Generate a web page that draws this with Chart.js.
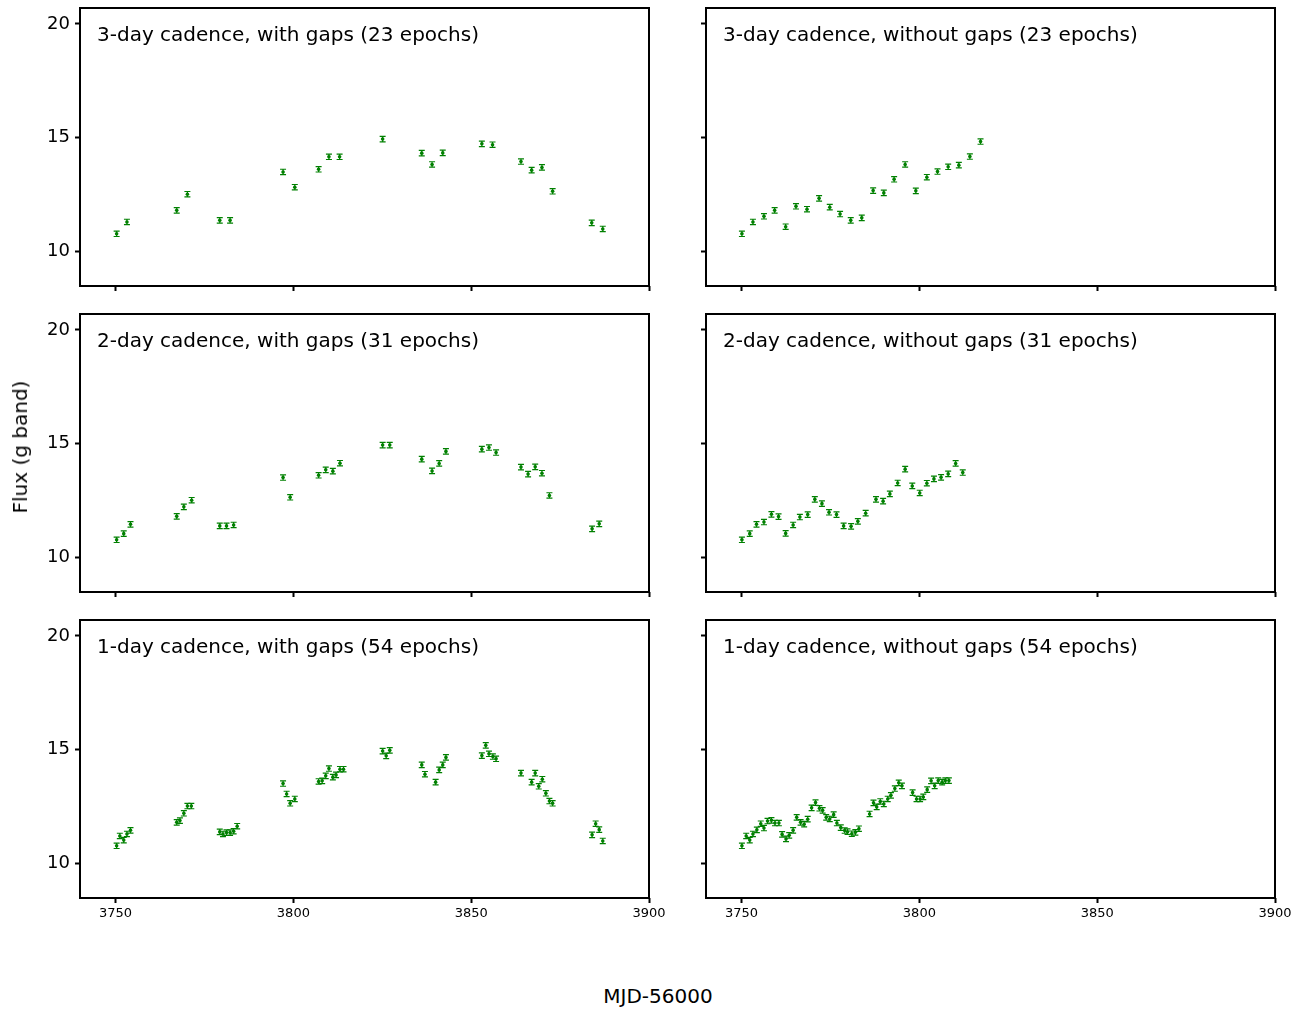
<!DOCTYPE html>
<html>
<head>
<meta charset="utf-8">
<script src="https://cdn.jsdelivr.net/npm/chart.js@4/dist/chart.umd.min.js"></script>
<style>
  html, body { margin:0; padding:0; background:#fff; overflow:hidden; width:1301px; height:1009px; }
  canvas { position:absolute; }
  .ttl { position:absolute; font-family:"DejaVu Sans", sans-serif; font-size:20px; line-height:20px; color:#000; white-space:nowrap; }
</style>
</head>
<body>
<script>
// ---------- data ----------
const X_TICKS = [3750, 3800, 3850, 3900];
const Y_TICKS = [10, 15, 20];
const FLUX_ERR = 0.12;

const gap3Days = [3750.3,3753.2,3767.2,3770.2,3779.3,3782.2,3797.1,3800.4,3807.1,3810.0,3813.0,3825.1,3836.1,3839.0,3842.0,3853.0,3856.0,3864.0,3867.0,3869.9,3872.9,3883.9,3887.0];
const gap3Flux = [10.76,11.28,11.79,12.50,11.35,11.35,13.48,12.81,13.60,14.15,14.15,14.93,14.31,13.81,14.32,14.72,14.68,13.94,13.56,13.68,12.63,11.24,10.97];

const cont3Days = [3750.1,3753.2,3756.3,3759.3,3762.4,3765.3,3768.4,3771.8,3774.8,3777.7,3780.7,3783.8,3787.0,3790.0,3792.9,3796.0,3799.0,3802.1,3805.1,3808.1,3811.1,3814.2,3817.2];
const cont3Flux = [10.76,11.28,11.53,11.79,11.07,11.97,11.84,12.32,11.93,11.63,11.35,11.46,12.66,12.56,13.16,13.81,12.65,13.25,13.50,13.71,13.78,14.16,14.82];

const gap2Days = [3750.3,3752.3,3754.2,3767.2,3769.2,3771.4,3779.3,3781.2,3783.2,3797.1,3799.1,3807.1,3809.1,3811.1,3813.1,3825.1,3827.1,3836.1,3839.0,3841.0,3842.9,3853.0,3855.0,3857.0,3864.0,3866.0,3868.0,3869.9,3872.0,3884.0,3886.0];
const gap2Flux = [10.76,11.03,11.44,11.79,12.21,12.50,11.37,11.37,11.41,13.50,12.63,13.60,13.84,13.78,14.13,14.93,14.93,14.31,13.79,14.12,14.65,14.75,14.82,14.60,13.96,13.65,13.97,13.69,12.71,11.24,11.46];

const cont2Days = [3750.1,3752.3,3754.2,3756.3,3758.4,3760.4,3762.4,3764.5,3766.4,3768.6,3770.6,3772.6,3774.6,3776.7,3778.7,3780.8,3782.7,3784.9,3787.8,3789.8,3791.7,3793.9,3796.0,3798.0,3800.1,3802.1,3804.1,3806.1,3808.1,3810.2,3812.2];
const cont2Flux = [10.76,11.03,11.44,11.54,11.88,11.78,11.04,11.41,11.76,11.87,12.54,12.35,11.97,11.87,11.37,11.35,11.57,11.93,12.54,12.46,12.78,13.26,13.87,13.13,12.82,13.25,13.44,13.51,13.66,14.12,13.72];

const gap1Days = [3750.3,3751.2,3752.3,3753.2,3754.2,3767.2,3768.1,3769.2,3770.2,3771.3,3779.3,3780.2,3781.2,3782.2,3783.2,3784.2,3797.1,3798.1,3799.1,3800.4,3807.1,3808.1,3809.1,3810.0,3811.1,3812.0,3813.1,3814.1,3825.1,3826.1,3827.1,3836.1,3837.0,3840.0,3841.0,3842.0,3842.9,3853.0,3854.1,3855.0,3856.1,3857.0,3864.0,3867.0,3868.0,3869.0,3870.0,3871.0,3872.0,3872.9,3884.0,3885.0,3886.0,3887.0];
const gap1Flux = [10.76,11.19,11.01,11.28,11.44,11.79,11.87,12.19,12.51,12.51,11.37,11.28,11.34,11.34,11.40,11.62,13.50,13.04,12.63,12.82,13.59,13.62,13.84,14.16,13.78,13.88,14.13,14.13,14.93,14.72,14.96,14.32,13.91,13.56,14.10,14.32,14.65,14.73,15.18,14.81,14.69,14.59,13.96,13.56,13.96,13.38,13.69,13.07,12.73,12.63,11.24,11.73,11.47,10.97];

const cont1Days = [3750.1,3751.3,3752.3,3753.2,3754.3,3755.4,3756.3,3757.3,3758.4,3759.4,3760.5,3761.4,3762.5,3763.4,3764.5,3765.5,3766.6,3767.6,3768.6,3769.7,3770.8,3771.9,3772.8,3773.8,3774.8,3775.9,3776.8,3777.9,3779.0,3779.8,3781.0,3782.0,3783.0,3786.0,3787.1,3788.0,3789.0,3790.0,3791.1,3792.0,3793.1,3794.2,3795.1,3798.1,3799.2,3800.2,3801.1,3802.2,3803.3,3804.3,3805.3,3806.4,3807.3,3808.3];
const cont1Flux = [10.76,11.19,11.01,11.28,11.46,11.73,11.54,11.85,11.88,11.76,11.76,11.26,11.06,11.22,11.44,12.01,11.79,11.71,11.93,12.43,12.66,12.41,12.32,12.01,11.94,12.13,11.76,11.56,11.43,11.38,11.29,11.35,11.51,12.16,12.65,12.47,12.71,12.60,12.82,12.98,13.28,13.53,13.40,13.10,12.82,12.82,12.91,13.23,13.62,13.40,13.63,13.56,13.63,13.63];

const panelTitles = [
  '3-day cadence, with gaps (23 epochs)', '3-day cadence, without gaps (23 epochs)',
  '2-day cadence, with gaps (31 epochs)', '2-day cadence, without gaps (31 epochs)',
  '1-day cadence, with gaps (54 epochs)', '1-day cadence, without gaps (54 epochs)'
];
const panelData = [
  [gap3Days, gap3Flux], [cont3Days, cont3Flux],
  [gap2Days, gap2Flux], [cont2Days, cont2Flux],
  [gap1Days, gap1Flux], [cont1Days, cont1Flux]
];
const xLabel = 'MJD-56000';
const yLabel = 'Flux (g band)';

// ---------- plugins ----------
const errorBars = {
  id: 'errorBars',
  beforeDatasetsDraw(chart) {
    const { ctx, scales: { x, y } } = chart;
    ctx.save();
    ctx.strokeStyle = '#008000';
    ctx.lineWidth = 1.2;
    chart.data.datasets[0].data.forEach(p => {
      const px = x.getPixelForValue(p.x);
      const t = y.getPixelForValue(p.y + FLUX_ERR);
      const b = y.getPixelForValue(p.y - FLUX_ERR);
      ctx.beginPath();
      ctx.moveTo(px, t); ctx.lineTo(px, b);
      ctx.moveTo(px - 3, t); ctx.lineTo(px + 3, t);
      ctx.moveTo(px - 3, b); ctx.lineTo(px + 3, b);
      ctx.stroke();
    });
    ctx.restore();
  }
};
const frame = {
  id: 'frame',
  afterDraw(chart) {
    const { ctx, chartArea: a } = chart;
    ctx.save();
    ctx.strokeStyle = '#000';
    ctx.lineWidth = 2;
    ctx.strokeRect(a.left, a.top, a.right - a.left, a.bottom - a.top);
    ctx.restore();
  }
};

function zeroPad(s) { s.paddingTop = 0; s.paddingBottom = 0; s.paddingLeft = 0; s.paddingRight = 0; }

// ---------- layout ----------
const CW = 675, CH = 316;
const colLeft = [0, 626];
const rowTop = [0, 306, 612];

panelData.forEach((pd, i) => {
  const col = i % 2, row = Math.floor(i / 2);
  const cv = document.createElement('canvas');
  cv.width = CW; cv.height = CH;
  cv.style.left = colLeft[col] + 'px';
  cv.style.top = rowTop[row] + 'px';
  cv.style.width = CW + 'px'; cv.style.height = CH + 'px';
  document.body.appendChild(cv);

  const pts = pd[0].map((d, k) => ({ x: d, y: pd[1][k] }));
  new Chart(cv, {
    type: 'scatter',
    data: { datasets: [{ data: pts, backgroundColor: '#008000', borderWidth: 0, pointRadius: 1.8, pointHoverRadius: 1.8 }] },
    options: {
      responsive: false, animation: false, devicePixelRatio: 1,
      events: [],
      layout: { autoPadding: false, padding: { left: 0, right: 26, top: 8, bottom: 0 } },
      plugins: { legend: { display: false }, tooltip: { enabled: false } },
      scales: {
        x: {
          type: 'linear', min: 3740, max: 3900,
          afterBuildTicks: s => { s.ticks = X_TICKS.map(v => ({ value: v })); },
          afterFit: s => { s.height = 30; zeroPad(s); },
          border: { display: false },
          grid: { display: true, drawOnChartArea: false, drawTicks: true, tickLength: 5, tickWidth: 2, tickColor: '#000' },
          ticks: { display: row === 2, color: '#000', padding: 3, maxRotation: 0, callback: v => String(v), font: { family: 'DejaVu Sans', size: 13 } }
        },
        y: {
          type: 'linear', min: 8.46, max: 20.7,
          afterBuildTicks: s => { s.ticks = Y_TICKS.map(v => ({ value: v })); },
          afterFit: s => { s.width = 80; zeroPad(s); },
          border: { display: false },
          grid: { display: true, drawOnChartArea: false, drawTicks: true, tickLength: 5, tickWidth: 2, tickColor: '#000' },
          ticks: { display: col === 0, color: '#000', padding: 5, callback: v => String(v), font: { family: 'DejaVu Sans', size: 18 } }
        }
      }
    },
    plugins: [errorBars, frame]
  });

  const t = document.createElement('div');
  t.className = 'ttl';
  t.textContent = panelTitles[i];
  t.style.left = (col === 0 ? 97 : 723) + 'px';
  t.style.top = (24 + row * 306) + 'px';
  document.body.appendChild(t);
});

const xl = document.createElement('div');
xl.className = 'ttl';
xl.textContent = xLabel;
xl.style.left = '658px'; xl.style.top = '986px';
xl.style.transform = 'translateX(-50%)';
document.body.appendChild(xl);

const yl = document.createElement('div');
yl.className = 'ttl';
yl.textContent = yLabel;
yl.style.left = '20px'; yl.style.top = '447px';
yl.style.transform = 'translate(-50%, -50%) rotate(-90deg)';
document.body.appendChild(yl);
</script>
</body>
</html>
